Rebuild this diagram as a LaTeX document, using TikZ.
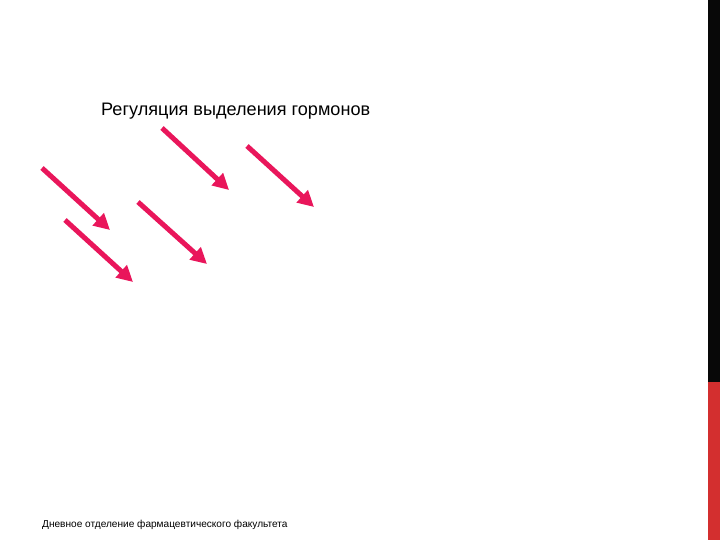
\documentclass[tikz,border=0pt]{standalone}
\usepackage{fontspec}
\setmainfont{Liberation Sans}
\usetikzlibrary{arrows.meta}
\definecolor{arrowpink}{RGB}{233,22,91}
\definecolor{barred}{RGB}{211,47,47}
\definecolor{bardark}{RGB}{8,8,8}
\tikzset{
  pinkarrow/.style={draw=arrowpink, line width=5pt, -{Triangle[length=16pt,width=16pt]}},
  lbl/.style={inner sep=0pt, anchor=base west}
}
\begin{document}
\begin{tikzpicture}[x=1pt,y=-1pt]
\useasboundingbox (0,0) rectangle (720,540);
\fill[white] (0,0) rectangle (720,540);
\fill[bardark] (708,0) rectangle (720,382);
\fill[barred] (708,382) rectangle (720,540);
\node[lbl, font=\fontsize{18.1}{22}\selectfont] (title) at (101,116) {Регуляция выделения гормонов};
\node[lbl, font=\fontsize{10.1}{12}\selectfont] (footer) at (42,527) {Дневное отделение фармацевтического факультета};
\coordinate (a1s) at (162,128); \coordinate (a1e) at (229,190);
\coordinate (a2s) at (247,146); \coordinate (a2e) at (314,207);
\coordinate (a3s) at (42,168);  \coordinate (a3e) at (110,230);
\coordinate (a4s) at (65,220);  \coordinate (a4e) at (133,282);
\coordinate (a5s) at (138,202); \coordinate (a5e) at (207,264);
\draw[pinkarrow] (a1s) -- (a1e);
\draw[pinkarrow] (a2s) -- (a2e);
\draw[pinkarrow] (a3s) -- (a3e);
\draw[pinkarrow] (a4s) -- (a4e);
\draw[pinkarrow] (a5s) -- (a5e);
\end{tikzpicture}
\end{document}
